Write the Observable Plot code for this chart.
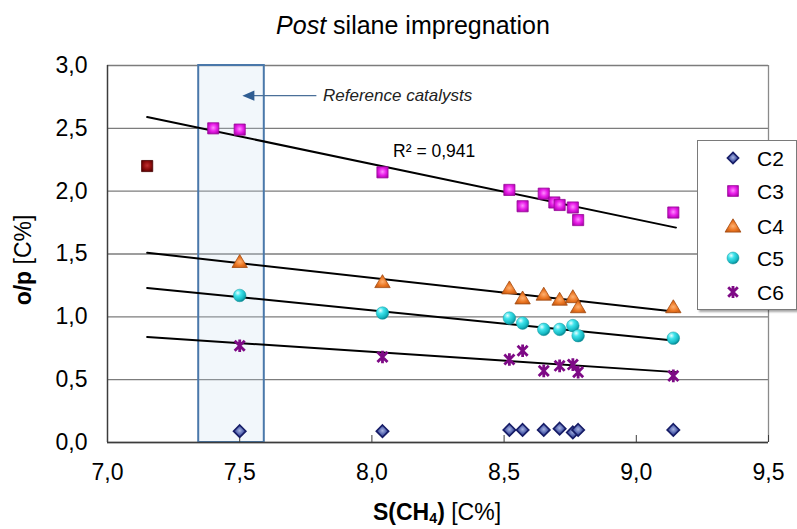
<!DOCTYPE html>
<html>
<head>
<meta charset="utf-8">
<script src="https://cdn.jsdelivr.net/npm/d3@7"></script>
<script src="https://cdn.jsdelivr.net/npm/@observablehq/plot@0.6"></script>
<style>
  body { margin: 0; background: #fff; font-family: "Liberation Sans", Arial, sans-serif; }
  #wrap { position: relative; width: 797px; height: 529px; overflow: hidden; background: #fff; }
  #wrap > svg { position: absolute; left: 0; top: 0; }
  .abs { position: absolute; white-space: nowrap; color: #000; line-height: 1; }
  #legend { position: absolute; left: 697px; top: 140px; width: 98px; height: 168px; background: #fff;
            border: 1px solid #7a7a7a; box-shadow: 2px 2px 2px rgba(0,0,0,0.35); }
  #legend .item { position: absolute; left: 0; width: 98px; height: 26px; }
  #legend .item svg { position: absolute; left: 24px; top: 2px; }
  #legend .item span { position: absolute; left: 59px; top: 3px; font-size: 21px; line-height: 21px; color: #000; }
</style>
</head>
<body>
<div id="wrap"></div>
<script>
// ---------------- data ----------------
const seriesNames = ["C2", "C3", "C4", "C5", "C6"];
const xMain = [7.50, 8.04, 8.52, 8.57, 8.65, 8.71, 8.76, 8.78, 9.14];
const c2 = [0.09, 0.09, 0.10, 0.10, 0.10, 0.11, 0.08, 0.10, 0.10];
const xC3 = [7.40, 7.50, 8.04, 8.52, 8.57, 8.65, 8.69, 8.71, 8.76, 8.78, 9.14];
const c3 = [2.50, 2.49, 2.15, 2.01, 1.88, 1.98, 1.91, 1.89, 1.87, 1.77, 1.83];
const c4 = [1.44, 1.28, 1.23, 1.15, 1.18, 1.14, 1.16, 1.08, 1.08];
const c5 = [1.17, 1.03, 0.99, 0.95, 0.90, 0.90, 0.93, 0.85, 0.83];
const c6 = [0.77, 0.68, 0.66, 0.73, 0.57, 0.61, 0.62, 0.56, 0.53];
const xExtra = [7.15];
const c3Extra = [2.20];

// trend lines (end points)
const trendX = [7.15, 9.15];
const trendC3 = [2.59, 1.71];
const trendC4 = [1.51, 1.04];
const trendC5 = [1.23, 0.81];
const trendC6 = [0.84, 0.56];

// axes
const xTicks = [7.0, 7.5, 8.0, 8.5, 9.0, 9.5];
const yTicks = [0.0, 0.5, 1.0, 1.5, 2.0, 2.5, 3.0];

// annotations
const refBand = [{x1: 7.345, x2: 7.593, y1: 0, y2: 3}];
const refArrow = [{x1: 7.79, x2: 7.51, y: 2.76}];
const refLabel = [{x: 7.815, y: 2.76, text: "Reference catalysts"}];
const r2Label = [{x: 8.08, y: 2.32, text: "R² = 0,941"}];

// ---------------- symbols ----------------
const rad = s => Math.sqrt(s / Math.PI);
const symDiamond = {draw(c, s) { const r = rad(s); c.moveTo(0, -r); c.lineTo(r, 0); c.lineTo(0, r); c.lineTo(-r, 0); c.closePath(); }};
const symSquare = {draw(c, s) { const r = rad(s) * 0.9; c.moveTo(-r, -r); c.lineTo(r, -r); c.lineTo(r, r); c.lineTo(-r, r); c.closePath(); }};
const symTriangle = {draw(c, s) { const r = rad(s); c.moveTo(0, -r); c.lineTo(r * 1.1, r * 0.85); c.lineTo(-r * 1.1, r * 0.85); c.closePath(); }};
const symCircle = {draw(c, s) { const r = rad(s); c.moveTo(r, 0); c.arc(0, 0, r, 0, 2 * Math.PI); }};
const symStar = {draw(c, s) { const r = rad(s), k = r * 0.8; c.moveTo(-k, -k); c.lineTo(k, k); c.moveTo(k, -k); c.lineTo(-k, k); c.moveTo(0, -r); c.lineTo(0, r); }};
const symArrowHead = {draw(c, s) { const r = rad(s); c.moveTo(0, 0); c.lineTo(2 * r, -r * 0.85); c.lineTo(2 * r, r * 0.85); c.closePath(); }};

const styles = {
  C2: {symbol: symDiamond, r: 6.2, fill: "url(#gC2)", stroke: "#161c66", strokeWidth: 1.6},
  C3: {symbol: symSquare, r: 6.2, fill: "url(#gC3)", stroke: "#9a0a9a", strokeWidth: 0.8},
  C4: {symbol: symTriangle, r: 7.0, fill: "url(#gC4)", stroke: "#a24a10", strokeWidth: 0.8},
  C5: {symbol: symCircle, r: 6.3, fill: "url(#gC5)", stroke: "#1a9aa2", strokeWidth: 0.5},
  C6: {symbol: symStar, r: 6.3, fill: "none", stroke: "#7e0a86", strokeWidth: 2.8}
};

const fmt = d => d.toFixed(1).replace(".", ",");
const pts = (xs, ys) => xs.map((x, i) => ({x, y: ys[i]}));
const trendData = [["C3", trendC3], ["C4", trendC4], ["C5", trendC5], ["C6", trendC6]]
  .flatMap(([s, v]) => trendX.map((x, i) => ({series: s, x, y: v[i]})));

const dotMark = (data, st) => Plot.dot(data, {x: "x", y: "y", ...st});

const svg = Plot.plot({
  width: 797, height: 529,
  marginTop: 65, marginBottom: 87, marginLeft: 107, marginRight: 29,
  x: {domain: [7, 9.5]},
  y: {domain: [0, 3]},
  style: {fontFamily: "'Liberation Sans', Arial, sans-serif", fontSize: "23px", color: "#000", background: "transparent", overflow: "visible"},
  marks: [
    Plot.gridY(yTicks, {stroke: "#7c7c7c", strokeOpacity: 1, strokeWidth: 1.3}),
    Plot.ruleX([9.5], {stroke: "#8a8a8a", strokeWidth: 1.3}),
    Plot.rect(refBand, {x1: "x1", x2: "x2", y1: "y1", y2: "y2", fill: "#c6d9ef", fillOpacity: 0.22, stroke: "#4a78aa", strokeWidth: 2}),
    Plot.ruleY([0], {stroke: "#3c3c3c", strokeWidth: 1.5}),
    Plot.ruleX([7], {stroke: "#3c3c3c", strokeWidth: 1.5}),
    Plot.axisY({ticks: yTicks, tickSize: 0, tickPadding: 20, tickFormat: fmt, fontSize: 23, label: null}),
    Plot.axisX({ticks: xTicks, tickSize: 0, tickPadding: 21, tickFormat: fmt, fontSize: 23, label: null}),
    Plot.axisX({ticks: xTicks, tickSize: 7, text: null, dy: -7, label: null, stroke: "#3c3c3c"}),
    Plot.line(trendData, {x: "x", y: "y", z: "series", stroke: "#000", strokeWidth: 2}),
    dotMark(pts(xMain, c2), styles.C2),
    dotMark(pts(xExtra, c3Extra), {symbol: symSquare, r: 6.2, fill: "url(#gRed)", stroke: "#4a0000", strokeWidth: 0.8}),
    dotMark(pts(xC3, c3), styles.C3),
    dotMark(pts(xMain, c4), styles.C4),
    dotMark(pts(xMain, c5), styles.C5),
    dotMark(pts(xMain, c6), styles.C6),
    Plot.link(refArrow, {x1: "x1", x2: d => d.x2 + 0.03, y1: "y", y2: "y", stroke: "#4a6f99", strokeWidth: 1.4}),
    Plot.dot(refArrow, {x: "x2", y: "y", symbol: symArrowHead, r: 6, fill: "#2f5d92", stroke: "none"}),
    Plot.text(refLabel, {x: "x", y: "y", text: "text", textAnchor: "start", fontSize: 17, fontStyle: "italic", fill: "#222"}),
    Plot.text(r2Label, {x: "x", y: "y", text: "text", textAnchor: "start", fontSize: 17.5, fill: "#000"})
  ]
});

// gradients for the 3D-like markers
const defs = d3.select(svg).insert("defs", ":first-child");
function radial(id, stops, cx = "38%", cy = "35%", r = "70%") {
  const g = defs.append("radialGradient").attr("id", id).attr("cx", cx).attr("cy", cy).attr("r", r);
  stops.forEach(([o, c]) => g.append("stop").attr("offset", o).attr("stop-color", c));
}
radial("gC2", [["0%", "#a8b4e0"], ["50%", "#5565b0"], ["100%", "#222a80"]], "50%", "45%", "60%");
radial("gC3", [["0%", "#ff8cff"], ["50%", "#e81ee8"], ["100%", "#a600a6"]], "50%", "45%", "65%");
radial("gC4", [["0%", "#ffb070"], ["50%", "#ea7420"], ["100%", "#b45010"]], "50%", "55%", "65%");
radial("gC5", [["0%", "#e8ffff"], ["35%", "#40e4ec"], ["80%", "#16b8c2"], ["100%", "#0a8a94"]], "35%", "30%", "70%");
radial("gRed", [["0%", "#c03030"], ["55%", "#8c0c0c"], ["100%", "#500000"]], "50%", "45%", "65%");

const wrap = document.getElementById("wrap");
wrap.appendChild(svg);

// title
const title = document.createElement("div");
title.className = "abs";
title.style.cssText = "left:413px; top:25px; transform:translate(-50%,-50%); font-size:25px;";
title.innerHTML = "<i>Post</i> silane impregnation";
wrap.appendChild(title);

// y axis title
const ylab = document.createElement("div");
ylab.className = "abs";
ylab.style.cssText = "left:23px; top:260px; transform:translate(-50%,-50%) rotate(-90deg); font-size:23px;";
ylab.innerHTML = "<b>o/p</b> [C%]";
wrap.appendChild(ylab);

// x axis title
const xlab = document.createElement("div");
xlab.className = "abs";
xlab.style.cssText = "left:437px; top:513px; transform:translate(-50%,-50%); font-size:23px;";
xlab.innerHTML = "<b>S(CH<sub style='font-size:0.62em; vertical-align:-0.25em;'>4</sub>)</b> [C%]";
wrap.appendChild(xlab);

// legend
const legend = document.createElement("div");
legend.id = "legend";
const legendY = [4, 37, 72, 104, 138];
seriesNames.forEach((name, i) => {
  const st = styles[name];
  const item = document.createElement("div");
  item.className = "item";
  item.style.top = legendY[i] + "px";
  const s = d3.create("svg").attr("width", 22).attr("height", 22);
  const p = d3.path();
  const r = name === "C4" ? 7.2 : name === "C2" ? 5.6 : 6;
  st.symbol.draw(p, Math.PI * r * r);
  s.append("path").attr("transform", "translate(11,11)").attr("d", p.toString())
    .attr("fill", st.fill).attr("stroke", st.stroke).attr("stroke-width", st.strokeWidth);
  item.appendChild(s.node());
  const t = document.createElement("span");
  t.textContent = name;
  item.appendChild(t);
  legend.appendChild(item);
});
wrap.appendChild(legend);
</script>
</body>
</html>
